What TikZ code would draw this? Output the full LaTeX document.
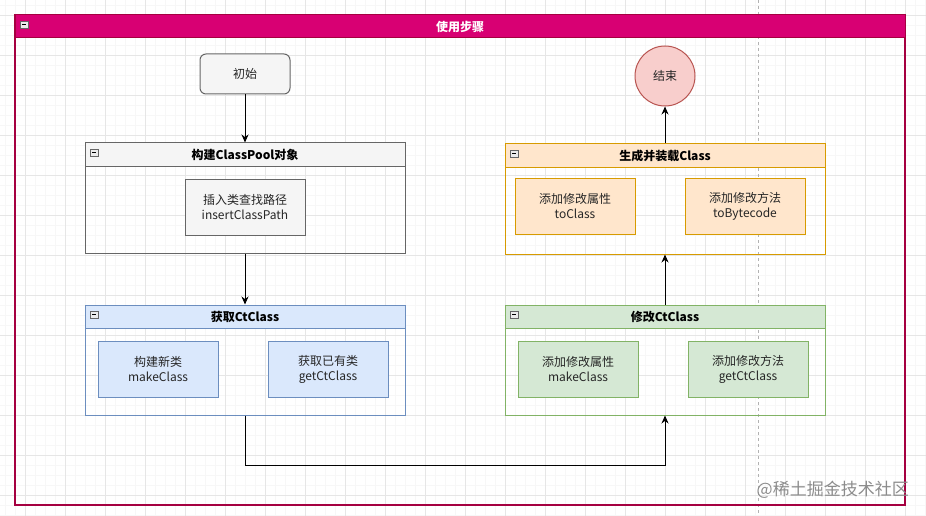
\documentclass[tikz,border=0pt]{standalone}
\usepackage{fontspec}
\setmainfont{Noto Sans CJK SC}
\usetikzlibrary{arrows.meta}
\definecolor{magfill}{HTML}{D80073}
\definecolor{magline}{HTML}{A50040}
\definecolor{grayfill}{HTML}{F5F5F5}
\definecolor{grayline}{HTML}{666666}
\definecolor{redfill}{HTML}{F8CECC}
\definecolor{redline}{HTML}{B85450}
\definecolor{orfill}{HTML}{FFE6CC}
\definecolor{orline}{HTML}{D79B00}
\definecolor{blfill}{HTML}{DAE8FC}
\definecolor{blline}{HTML}{6C8EBF}
\definecolor{grfill}{HTML}{D5E8D4}
\definecolor{grline}{HTML}{82B366}
\definecolor{gridmin}{HTML}{F7F7F7}
\definecolor{gridmaj}{HTML}{E6E6E6}
\tikzset{
  txt/.style={font=\fontsize{12}{15}\selectfont, text=black!85, align=center},
  contbody/.style={line width=1pt, minimum width=320pt, minimum height=110pt, inner sep=0pt},
  conthead/.style={line width=1pt, minimum width=320pt, minimum height=23pt, inner sep=0pt, font=\fontsize{12}{15}\selectfont\bfseries},
  innerbox/.style={line width=1pt, minimum width=120pt, minimum height=56pt, inner sep=0pt, txt},
  conn/.style={line width=1pt, black, -{Stealth[length=8pt,width=7pt]}}
}
\newcommand{\collapseicon}[2]{%
  \fill[white!85!gray, draw=grayline, line width=0.5pt] (#1,#2) rectangle ++(8,7);
  \draw[black, line width=0.8pt] ({#1+2},{#2+3.5}) -- ++(4,0);
}
\begin{document}
\begin{tikzpicture}[x=1pt,y=-1pt]
\useasboundingbox (0,0) rectangle (926,516);
\fill[white] (0,0) rectangle (926,516);
% grid
\foreach \gx in {5,15,...,925} \draw[gridmin, line width=0.5pt] (\gx,0) -- (\gx,516);
\foreach \gy in {5,15,...,515} \draw[gridmin, line width=0.5pt] (0,\gy) -- (926,\gy);
\foreach \gx in {25,65,...,905} \draw[gridmaj, line width=0.7pt] (\gx,0) -- (\gx,516);
\foreach \gy in {15,55,...,495} \draw[gridmaj, line width=0.7pt] (0,\gy) -- (926,\gy);
% page break
\draw[black!30, dashed, line width=0.6pt] (758,0) -- (758,516);

% outer container
\node[draw=magline, line width=1.1pt, minimum width=890pt, minimum height=490pt, inner sep=0pt] (outer) at (460,260) {};
\node[draw=magline, fill=magfill, line width=1pt, minimum width=890pt, minimum height=23pt, inner sep=0pt, text=white, font=\fontsize{12}{15}\selectfont\bfseries] (outerhead) at (460,26.5) {使用步骤};
\collapseicon{20}{21}

% start / end
\node[draw=grayline, fill=grayfill, rounded corners=6pt, line width=1pt, minimum width=90pt, minimum height=40pt, txt] (start) at (245,74) {初始};
\node[draw=redline, fill=redfill, circle, line width=1pt, minimum size=60pt, inner sep=0pt, txt] (end) at (665,76) {结束};

% ClassPool container
\node[contbody, draw=grayline] (pool) at (245,198) {};
\node[conthead, draw=grayline, fill=grayfill] (poolhead) at (245,154.5) {构建ClassPool对象};
\collapseicon{90}{149}
\node[innerbox, draw=grayline, fill=grayfill] (insert) at (245,207) {插入类查找路径\\insertClassPath};

% Generate container
\node[contbody, draw=orline] (gen) at (665,199) {};
\node[conthead, draw=orline, fill=orfill] (genhead) at (665,155.5) {生成并装载Class};
\collapseicon{510}{150}
\node[innerbox, draw=orline, fill=orfill] (tocls) at (575,206) {添加修改属性\\toClass};
\node[innerbox, draw=orline, fill=orfill] (tobyte) at (745,206) {添加修改方法\\toBytecode};

% Get CtClass container
\node[contbody, draw=blline] (get) at (245,360) {};
\node[conthead, draw=blline, fill=blfill] (gethead) at (245,316.5) {获取CtClass};
\collapseicon{90}{311}
\node[innerbox, draw=blline, fill=blfill] (make) at (158,369) {构建新类\\makeClass};
\node[innerbox, draw=blline, fill=blfill] (getct) at (328,369) {获取已有类\\getCtClass};

% Modify CtClass container
\node[contbody, draw=grline] (mod) at (665,360) {};
\node[conthead, draw=grline, fill=grfill] (modhead) at (665,316.5) {修改CtClass};
\collapseicon{510}{311}
\node[innerbox, draw=grline, fill=grfill] (modattr) at (578,369) {添加修改属性\\makeClass};
\node[innerbox, draw=grline, fill=grfill] (modmeth) at (748,369) {添加修改方法\\getCtClass};

% connectors
\draw[conn] (start.south) -- (poolhead.north);
\draw[conn] (pool.south) -- (gethead.north);
\draw[conn] (get.south) -- ++(0,50) -| (mod.south);
\draw[conn] (modhead.north) -- (gen.south);
\draw[conn] (genhead.north) -- (end.south);

% watermark
\node[anchor=east, text=black!45, font=\fontsize{17}{19}\selectfont, inner sep=0pt] (wm) at (909,490) {@稀土掘金技术社区};
\end{tikzpicture}
\end{document}
